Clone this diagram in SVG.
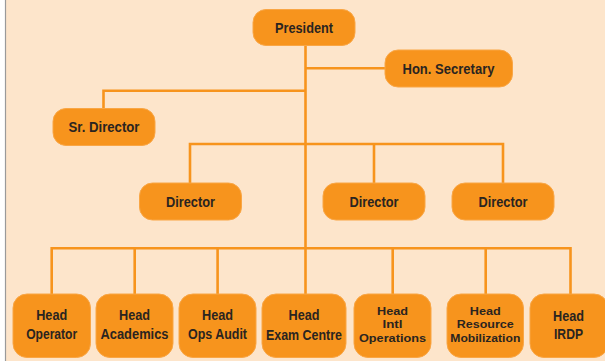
<svg xmlns="http://www.w3.org/2000/svg" width="605" height="361" viewBox="0 0 605 361">
<style>
.bg{fill:#FDE5CB}
.box{fill:#F7941D;stroke:#F9A645;stroke-width:1}
.ln{fill:none;stroke:#F7941D;stroke-width:2.6;stroke-linecap:butt}
text{font-family:"Liberation Sans Narrow","Liberation Sans",Arial,sans-serif;font-weight:bold;font-size:14.5px;fill:#2A2420;text-anchor:middle}
.t3{font-size:11.3px}
</style>
<rect x="0" y="0" width="605" height="361" fill="#ffffff"/>
<rect class="bg" x="6" y="0" width="599" height="361"/>
<line x1="5.5" y1="0" x2="5.5" y2="361" stroke="#9a9a9a" stroke-width="1.2"/>
<g id="connectors">
<path class="ln" d="M305.5 46V249"/>
<path class="ln" d="M305.5 68.3H386"/>
<path class="ln" d="M305.5 90.8H103.5V108.5"/>
<path class="ln" d="M190 183.5V144H503V183.5M374 144V183.5"/>
<path class="ln" d="M51.7 294.5V248.3H570.5V294.5M134.7 248.3V294.5M217.6 248.3V294.5M305.5 248.3V294.5M392.7 248.3V294.5M485.7 248.3V294.5"/>
</g>
<g id="president"><rect class="box" x="253" y="9.5" width="102" height="36" rx="13"/><text x="304" y="32.5" textLength="58" lengthAdjust="spacingAndGlyphs">President</text></g>
<g id="hon-secretary"><rect class="box" x="385" y="50" width="127.5" height="37" rx="13"/><text x="448.5" y="74" textLength="92" lengthAdjust="spacingAndGlyphs">Hon. Secretary</text></g>
<g id="sr-director"><rect class="box" x="53" y="108.5" width="102" height="37" rx="13"/><text x="104" y="132" textLength="71" lengthAdjust="spacingAndGlyphs">Sr. Director</text></g>
<g id="director-1"><rect class="box" x="139.5" y="183" width="102" height="37" rx="13"/><text x="190.5" y="207.3" textLength="49" lengthAdjust="spacingAndGlyphs">Director</text></g>
<g id="director-2"><rect class="box" x="323" y="183" width="102" height="37" rx="13"/><text x="374" y="207.3" textLength="49" lengthAdjust="spacingAndGlyphs">Director</text></g>
<g id="director-3"><rect class="box" x="452" y="183" width="102" height="37" rx="13"/><text x="503" y="207.3" textLength="49" lengthAdjust="spacingAndGlyphs">Director</text></g>
<g id="head-operator"><rect class="box" x="13" y="294" width="77.5" height="63.5" rx="14"/><text><tspan x="51.7" y="320.3" textLength="31" lengthAdjust="spacingAndGlyphs">Head</tspan><tspan x="51.7" y="339" textLength="51" lengthAdjust="spacingAndGlyphs">Operator</tspan></text></g>
<g id="head-academics"><rect class="box" x="96" y="294" width="77" height="63.5" rx="14"/><text><tspan x="134.5" y="320.3" textLength="31" lengthAdjust="spacingAndGlyphs">Head</tspan><tspan x="134.5" y="339" textLength="68" lengthAdjust="spacingAndGlyphs">Academics</tspan></text></g>
<g id="head-ops-audit"><rect class="box" x="179" y="294" width="77" height="63.5" rx="14"/><text><tspan x="217.5" y="320.3" textLength="31" lengthAdjust="spacingAndGlyphs">Head</tspan><tspan x="217.5" y="339" textLength="59" lengthAdjust="spacingAndGlyphs">Ops Audit</tspan></text></g>
<g id="head-exam-centre"><rect class="box" x="262" y="294" width="84" height="63.5" rx="14"/><text><tspan x="304" y="320.3" textLength="31" lengthAdjust="spacingAndGlyphs">Head</tspan><tspan x="304" y="339.5" textLength="76" lengthAdjust="spacingAndGlyphs">Exam Centre</tspan></text></g>
<g id="head-intl-operations"><rect class="box" x="354" y="294" width="77" height="63.5" rx="14"/><text class="t3"><tspan x="392.5" y="315" textLength="31" lengthAdjust="spacingAndGlyphs">Head</tspan><tspan x="392.5" y="328.3" textLength="20" lengthAdjust="spacingAndGlyphs">Intl</tspan><tspan x="392.5" y="341.6" textLength="67" lengthAdjust="spacingAndGlyphs">Operations</tspan></text></g>
<g id="head-resource-mobilization"><rect class="box" x="447" y="294" width="76.5" height="63.5" rx="14"/><text class="t3"><tspan x="485.3" y="315" textLength="31" lengthAdjust="spacingAndGlyphs">Head</tspan><tspan x="485.3" y="328.3" textLength="57" lengthAdjust="spacingAndGlyphs">Resource</tspan><tspan x="485.3" y="341.6" textLength="70" lengthAdjust="spacingAndGlyphs">Mobilization</tspan></text></g>
<g id="head-irdp"><rect class="box" x="530" y="294" width="78" height="63.5" rx="14"/><text><tspan x="568.5" y="320.5" textLength="31" lengthAdjust="spacingAndGlyphs">Head</tspan><tspan x="568.5" y="339.3" textLength="29" lengthAdjust="spacingAndGlyphs">IRDP</tspan></text></g>
</svg>
